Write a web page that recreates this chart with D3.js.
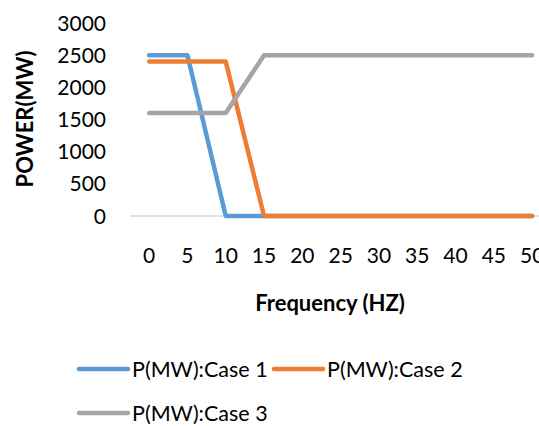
<!DOCTYPE html>
<html><head><meta charset="utf-8">
<script src="https://cdn.jsdelivr.net/npm/d3@7"></script>
<style>body{margin:0;background:#fff}svg{display:block}text{font-family:Lato,"Open Sans",sans-serif;fill:#000}</style>
</head><body><svg id="c" width="539" height="426"></svg>
<script>
const categories = [0,5,10,15,20,25,30,35,40,45,50];
const case1 = [2500,2500,0,0,0,0,0,0,0,0,0];
const case2 = [2400,2400,2400,0,0,0,0,0,0,0,0];
const case3 = [1600,1600,1600,2500,2500,2500,2500,2500,2500,2500,2500];
const yTicks = [0,500,1000,1500,2000,2500,3000];
const seriesNames = ["P(MW):Case 1","P(MW):Case 2","P(MW):Case 3"];
const colors = ["#5B9BD5","#ED7D31","#A5A5A5"];
const series = [case1,case2,case3];

const svg = d3.select("#c");
const x = d3.scaleBand().domain(categories).range([130, 130 + 38.3*11]);
const y = d3.scaleLinear().domain([0,3000]).range([216, 23]);
const cx = d => x(d) + x.bandwidth()/2;

// axis line
svg.append("line").attr("x1",130).attr("x2",560).attr("y1",y(0)).attr("y2",y(0))
  .attr("stroke","#d9d9d9").attr("stroke-width",1.3);

// y tick labels
svg.append("g").selectAll("text").data(yTicks).join("text")
  .attr("x",106).attr("y",d=>y(d)).attr("dy","0.36em").attr("text-anchor","end")
  .attr("font-size",21).text(d=>d);

// x tick labels
svg.append("g").selectAll("text").data(categories).join("text")
  .attr("x",d=>cx(d)).attr("y",255).attr("dy","0.36em").attr("text-anchor","middle")
  .attr("font-size",21).text(d=>d);

// lines
const line = d3.line().x((d,i)=>cx(categories[i])).y(d=>y(d));
svg.append("g").selectAll("path").data(series).join("path")
  .attr("d",line).attr("fill","none").attr("stroke",(d,i)=>colors[i])
  .attr("stroke-width",4.5).attr("stroke-linejoin","round").attr("stroke-linecap","round");

// axis titles
svg.append("text").attr("x",330).attr("y",303).attr("dy","0.36em").attr("text-anchor","middle")
  .attr("font-size",22).attr("font-weight","bold").text("Frequency (HZ)");
svg.append("text").attr("transform","translate(25,119) rotate(-90)").attr("dy","0.36em")
  .attr("text-anchor","middle").attr("font-size",22).attr("font-weight","bold").text("POWER(MW)");

// legend
const legPos = [[79,369],[274,369],[79,413]];
const lg = svg.append("g").selectAll("g").data(seriesNames).join("g")
  .attr("transform",(d,i)=>`translate(${legPos[i][0]},${legPos[i][1]})`);
lg.append("line").attr("x1",0).attr("x2",49).attr("stroke",(d,i)=>colors[i])
  .attr("stroke-width",4.5).attr("stroke-linecap","round");
lg.append("text").attr("x",53).attr("dy","0.36em").attr("font-size",21.5).text(d=>d);
</script></body></html>
